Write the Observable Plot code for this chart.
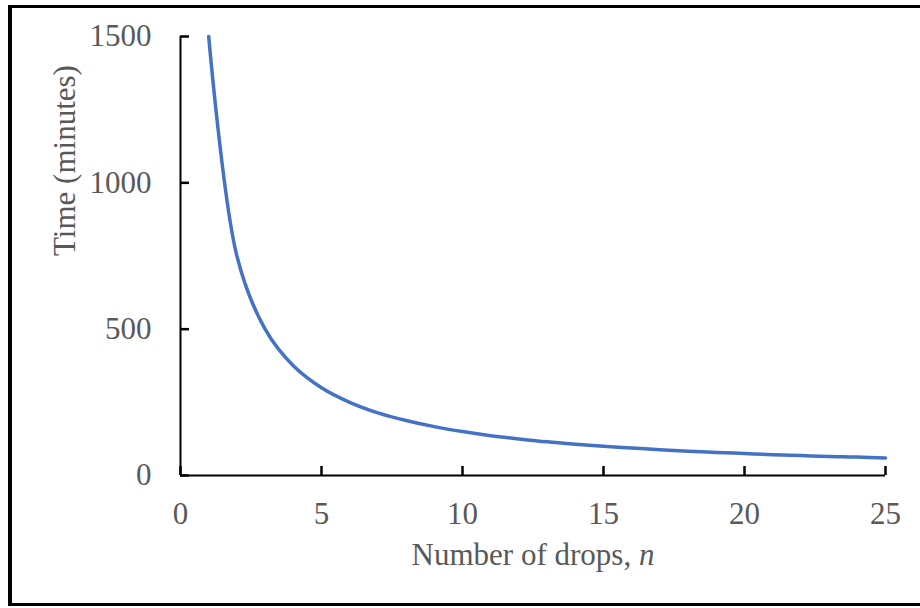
<!DOCTYPE html>
<html>
<head>
<meta charset="utf-8">
<script src="https://cdn.jsdelivr.net/npm/d3@7"></script>
<script src="https://cdn.jsdelivr.net/npm/@observablehq/plot@0.6"></script>
<style>
  html, body { margin: 0; padding: 0; background: #fff; overflow: hidden; width: 920px; height: 608px; }
  #chart { position: absolute; left: 0; top: 0; }
  #frame { position: absolute; left: 8px; top: 5px; width: 1000px; height: 601px; box-sizing: border-box;
           border-left: 4px solid #000; border-top: 3px solid #000; border-bottom: 3px solid #000; pointer-events: none; }
</style>
</head>
<body>
<div id="chart"></div>
<div id="frame"></div>
<script>
const drops = [1,2,3,4,5,6,7,8,9,10,11,12,13,14,15,16,17,18,19,20,21,22,23,24,25];
const minutes = [1500,750,500,375,300,250,214,188,167,150,136,125,115,107,100,94,88,83,79,75,71,68,65,63,60];
const xTicks = [0,5,10,15,20,25];
const yTicks = [0,500,1000,1500];
const xLabel = "Number of drops, ";
const xLabelItalic = "n";
const yLabel = "Time (minutes)";

const data = drops.map((n, i) => ({n, t: minutes[i]}));
const textColor = "#595959";
const fs = 31;

const plot = Plot.plot({
  width: 920,
  height: 608,
  marginLeft: 180,
  marginRight: 35,
  marginTop: 36,
  marginBottom: 133,
  style: {fontFamily: "'Liberation Serif', 'Times New Roman', serif", fontSize: fs + "px", background: "white"},
  x: {domain: [0, 25]},
  y: {domain: [0, 1500]},
  marks: [
    // tick labels
    Plot.axisX({ticks: xTicks, tickSize: 0, tickPadding: 26, tickFormat: d => String(d), color: textColor, label: null, fontSize: fs}),
    Plot.axisY({ticks: yTicks, tickSize: 0, tickPadding: 29, tickFormat: d => String(d), color: textColor, label: null, fontSize: fs}),
    // axis lines
    Plot.ruleX([0], {stroke: "#000", strokeWidth: 2}),
    Plot.ruleY([0], {stroke: "#000", strokeWidth: 2}),
    // inward tick marks
    Plot.ruleX(xTicks, {x: d => d, y1: 0, y2: 0, insetBottom: 9, stroke: "#000", strokeWidth: 2.5}),
    Plot.ruleY(yTicks, {y: d => d, x1: 0, x2: 0, insetRight: -9, stroke: "#000", strokeWidth: 2.5}),
    Plot.line(data, {x: "n", y: "t", stroke: "#4472C4", strokeWidth: 3.5, curve: "catmull-rom"}),
    Plot.text([xLabel + xLabelItalic], {frameAnchor: "bottom", dy: 89, fill: textColor, fontSize: fs, className: "xlab"}),
    Plot.text([yLabel], {frameAnchor: "left", dx: -115, rotate: -90, fill: textColor, fontSize: fs})
  ]
});
document.getElementById("chart").appendChild(plot);

// italic "n" in the x label
d3.select(plot).selectAll("g.xlab text").each(function() {
  const t = d3.select(this);
  t.text(null);
  t.append("tspan").text(xLabel);
  t.append("tspan").attr("font-style", "italic").text(xLabelItalic);
});
</script>
</body>
</html>
